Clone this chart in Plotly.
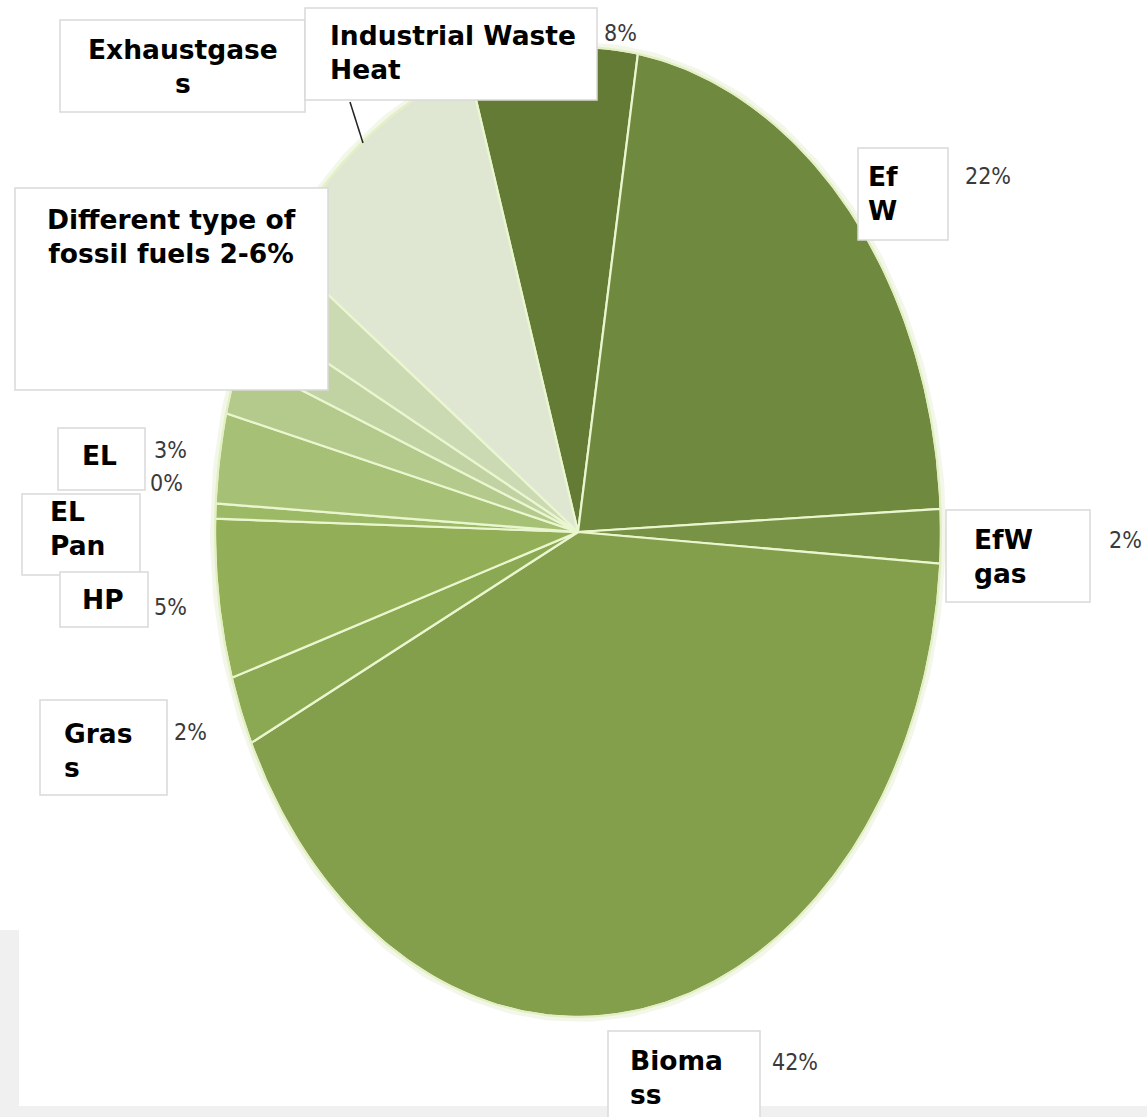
import numpy as np
import plotly.graph_objects as go

W, H = 1147, 1117

# ---- data (clockwise from the top-left edge of "Industrial Waste Heat") ----
categories = ["Industrial Waste Heat", "EfW", "EfW gas", "Biomass", "Grass", "HP",
              "EL Pan", "EL", "Fossil fuel A", "Fossil fuel B", "Fossil fuel C", "Exhaustgases"]
values = [7.5, 21.6, 1.8, 41.8, 2.3, 5.3, 0.5, 3.0, 1.9, 1.6, 2.4, 10.3]
colors = ["#647b35", "#6f893e", "#789345", "#849f4b", "#8ba852", "#92af57",
          "#9cb965", "#a6c176", "#b4ca8d", "#c1d3a2", "#ccdab4", "#dfe7d2"]
start_angle_deg = -17.5   # clockwise from 12 o'clock

# callout texts
box_texts = ["Exhaustgase<br>s", "Industrial Waste<br>Heat", "Different type of<br>fossil fuels 2-6%",
             "Ef<br>W", "EfW<br>gas", "EL", "EL<br>Pan", "HP", "Gras<br>s", "Bioma<br>ss"]
pct_labels = ["8%", "22%", "2%", "42%", "3%", "0%", "5%", "2%"]

# ---- layout geometry (pixels) ----
cx, cy, rx, ry = 578, 532, 363, 485
xr = [(0 - cx) / rx, (W - cx) / rx]
yr = [(cy - H) / ry, (cy - 0) / ry]


def px(x):
    return x / W


def py(y):
    return 1 - y / H


fig = go.Figure()

# soft halo round the pie
t = np.linspace(0, 2 * np.pi, 400)
fig.add_trace(go.Scatter(x=np.sin(t), y=np.cos(t), mode="lines",
                         line=dict(color="rgba(235,242,220,0.6)", width=10), hoverinfo="skip",
                         showlegend=False))

# wedges built from the values through the axis scales
tot = sum(values)
cum = start_angle_deg
for name, v, c in zip(categories, values, colors):
    a0 = np.radians(cum)
    a1 = np.radians(cum + v / tot * 360)
    cum += v / tot * 360
    tt = np.linspace(a0, a1, max(3, int(abs(a1 - a0) * 120)))
    xs = np.concatenate([[0], np.sin(tt), [0]])
    ys = np.concatenate([[0], np.cos(tt), [0]])
    fig.add_trace(go.Scatter(x=xs, y=ys, fill="toself", fillcolor=c, mode="lines",
                             line=dict(color="#eaf6cf", width=2.2), name=name,
                             hoverinfo="name", showlegend=False))

# outer rim
fig.add_trace(go.Scatter(x=np.sin(t), y=np.cos(t), mode="lines",
                         line=dict(color="#e4efc6", width=2), hoverinfo="skip", showlegend=False))

shapes = []
# grey page bands
shapes.append(dict(type="rect", xref="paper", yref="paper", x0=0, x1=px(19), y0=py(H), y1=py(930),
                   fillcolor="#f0f0f0", line=dict(width=0), layer="below"))
shapes.append(dict(type="rect", xref="paper", yref="paper", x0=0, x1=1, y0=py(H), y1=py(1106),
                   fillcolor="#f0f0f0", line=dict(width=0), layer="below"))

boxes = [
    ([60, 20, 305, 112], 183, 66, "center"),
    ([305, 8, 597, 100], 328, 52, "left"),
    ([15, 188, 328, 390], 172, 236, "center"),
    ([858, 148, 948, 240], 866, 193, "left"),
    ([946, 510, 1090, 602], 972, 556, "left"),
    ([58, 428, 145, 490], 80, 455, "left"),
    ([22, 494, 140, 575], 48, 528, "left"),
    ([60, 572, 148, 627], 80, 599, "left"),
    ([40, 700, 167, 795], 62, 750, "left"),
    ([608, 1031, 760, 1130], 628, 1077, "left"),
]
annotations = []
for txt, (b, tx, ty, al) in zip(box_texts, boxes):
    shapes.append(dict(type="rect", xref="paper", yref="paper", x0=px(b[0]), x1=px(b[2]),
                       y0=py(b[3]), y1=py(b[1]), fillcolor="white",
                       line=dict(color="#d9d9d9", width=1.5), layer="above"))
    annotations.append(dict(text=f"<b>{txt}</b>", xref="paper", yref="paper", x=px(tx), y=py(ty),
                            xanchor="center" if al == "center" else "left", yanchor="middle",
                            align=al, showarrow=False,
                            font=dict(family="DejaVu Sans, sans-serif", size=26.5, color="#000000")))

# leader line from the Industrial Waste Heat callout
shapes.append(dict(type="line", xref="paper", yref="paper", x0=px(350), y0=py(102), x1=px(363), y1=py(143),
                   line=dict(color="#222222", width=1.5), layer="above"))

pct_pos = [(620, 33), (988, 176), (1125, 540), (795, 1062), (170, 450), (166, 483), (170, 607), (190, 732)]
for lab, (x, y) in zip(pct_labels, pct_pos):
    annotations.append(dict(text=lab, xref="paper", yref="paper", x=px(x), y=py(y),
                            xanchor="center", yanchor="middle", showarrow=False,
                            font=dict(family="Liberation Sans Narrow, DejaVu Sans Condensed, sans-serif",
                                      size=23, color="#3a3a3a")))

fig.update_layout(
    width=W, height=H, margin=dict(l=0, r=0, t=0, b=0),
    paper_bgcolor="white", plot_bgcolor="white",
    xaxis=dict(range=xr, visible=False, fixedrange=True),
    yaxis=dict(range=yr, visible=False, fixedrange=True),
    shapes=shapes, annotations=annotations, showlegend=False,
)

fig.write_html("out.html")
